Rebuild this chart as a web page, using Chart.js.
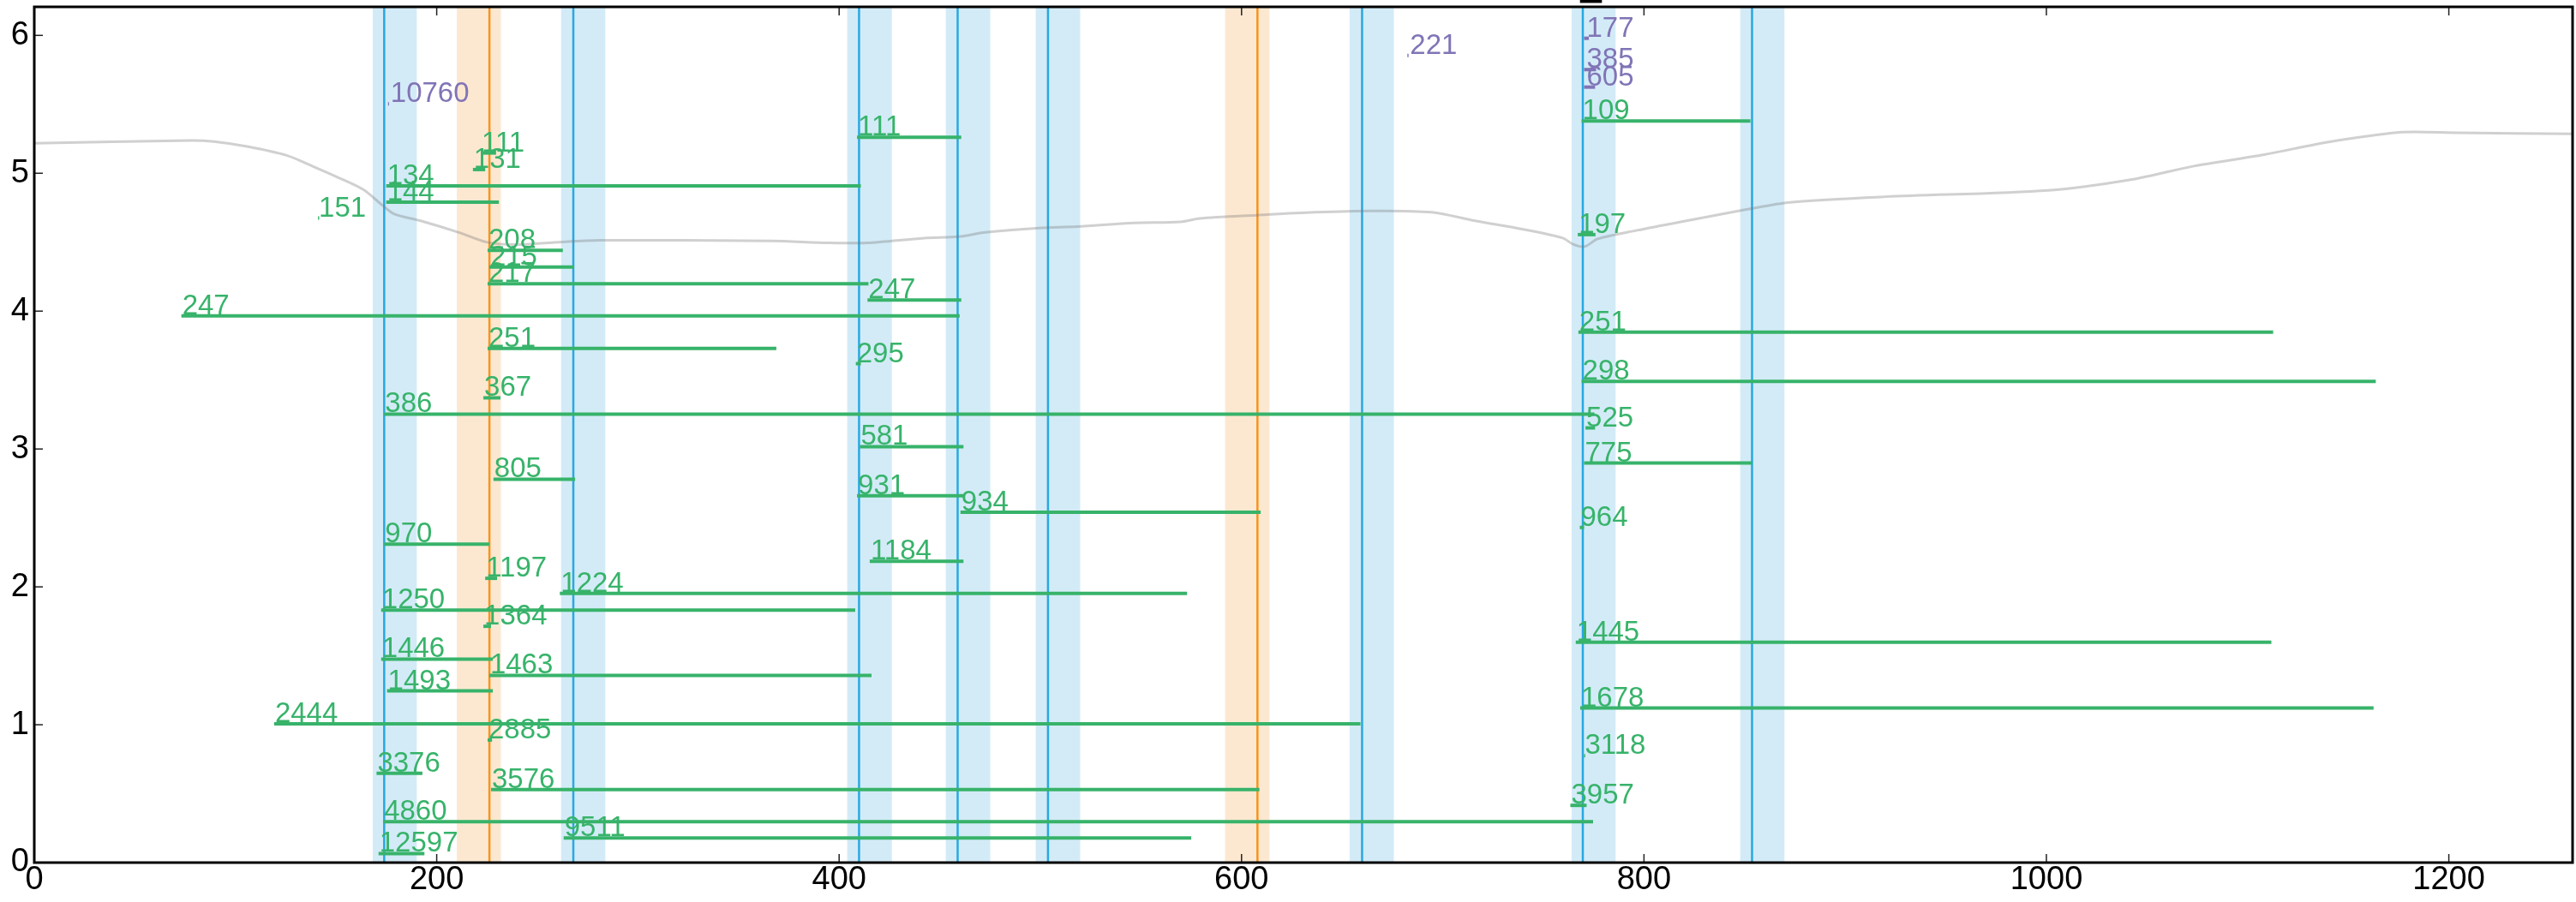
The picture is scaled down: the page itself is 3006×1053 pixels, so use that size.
<!DOCTYPE html>
<html>
<head>
<meta charset="utf-8">
<script src="https://cdn.jsdelivr.net/npm/chart.js@4.4.1/dist/chart.umd.min.js"></script>
<style>
  html, body { margin: 0; padding: 0; background: #fff; }
  #wrap { width: 3006px; height: 1053px; }
</style>
</head>
<body>
<div id="wrap"><canvas id="chart" width="3006" height="1053"></canvas></div>
<script>
// labelled green segments: label, y level, start and end position
const greenLabels = ['111', '111', '131', '134', '144', '151', '208', '215', '217', '247',
  '247', '251', '295', '367', '386', '525', '581', '775', '805', '931',
  '934', '964', '970', '1184', '1197', '1224', '1250', '1364', '1446', '1463',
  '1493', '2444', '2885', '3376', '3576', '4860', '9511', '12597', '109', '197',
  '251', '298', '1445', '1678', '3118', '3957'];
const greenY = [5.261, 5.147, 5.027, 4.909, 4.790, 4.675, 4.441, 4.319, 4.199, 3.965,
  4.081, 3.729, 3.619, 3.371, 3.253, 3.153, 3.017, 2.898, 2.781, 2.661,
  2.541, 2.431, 2.309, 2.185, 2.062, 1.953, 1.832, 1.714, 1.476, 1.358,
  1.245, 1.006, 0.889, 0.648, 0.530, 0.296, 0.178, 0.066, 5.379, 4.555,
  3.847, 3.491, 1.599, 1.121, 0.775, 0.415];
const greenStart = [408.9, 221.9, 218.0, 174.9, 174.9, 141.0, 225.3, 226.1, 225.3, 73.1,
  414.1, 225.3, 408.3, 223.2, 173.9, 770.9, 410.3, 770.2, 228.2, 408.9,
  460.3, 768.1, 173.9, 415.2, 224.1, 261.2, 172.4, 223.2, 172.4, 226.1,
  175.3, 119.2, 225.3, 170.1, 227.0, 173.4, 263.1, 171.1, 769.0, 767.1,
  767.4, 769.0, 766.1, 768.3, 770.2, 763.4];
const greenEnd = [460.7, 229.5, 224.1, 410.8, 230.9, 141.6, 262.7, 268.0, 414.6, 459.9,
  460.7, 368.8, 410.8, 231.7, 775.4, 775.7, 461.8, 853.7, 268.8, 461.8,
  609.5, 770.2, 226.1, 461.8, 230.0, 572.9, 408.0, 227.0, 227.9, 416.1,
  227.9, 659.1, 227.5, 192.9, 608.9, 774.7, 575.0, 193.9, 852.9, 775.9,
  1112.7, 1163.7, 1111.8, 1162.6, 770.8, 771.5];

// purple labels near the top
const purpleLabels = ['10760', '221', '177', '385', '605'];
const purpleY = [5.503, 5.855, 5.979, 5.752, 5.625];
const purpleStart = [175.8, 682.4, 770.2, 770.2, 770.2];
const purpleEnd = [176.3, 683.0, 772.6, 776.2, 775.7];

// vertical markers and their shaded windows
const blueLines = [173.9, 267.9, 409.9, 458.9, 503.8, 659.9, 769.6, 853.7];
const blueBandStart = [168.2, 261.8, 404.0, 453.0, 497.7, 653.7, 764.0, 847.8];
const blueBandEnd = [190.1, 283.8, 426.2, 475.1, 519.8, 675.7, 785.9, 869.8];
const orangeLines = [226.2, 607.9];
const orangeBandStart = [210.0, 591.8];
const orangeBandEnd = [231.9, 613.9];

// grey background profile
const profileX = [0, 77.9, 89.3, 106.4, 125.4, 138.8, 150.2, 163.5, 173, 178.7,
  192, 211, 225.2, 239.5, 258.5, 281, 366.2, 394.8, 413.8, 442.3,
  459.4, 472.7, 499.3, 518.3, 546.9, 569.7, 579.2, 607.8, 636.3, 664.4,
  694.4, 716.1, 740, 759.6, 765, 770.5, 777, 796.5, 818.3, 850.9,
  872.6, 920, 1001, 1042.6, 1073.3, 1108.3, 1139, 1171.8, 1182.8, 1204.7, 1261.5];
const profileY = [5.217, 5.238, 5.23, 5.193, 5.130, 5.048, 4.975, 4.882, 4.768, 4.706,
  4.655, 4.571, 4.499, 4.483, 4.499, 4.514, 4.509, 4.495, 4.495, 4.530,
  4.540, 4.571, 4.602, 4.613, 4.640, 4.648, 4.672, 4.696, 4.717, 4.727,
  4.717, 4.655, 4.593, 4.530, 4.483, 4.468, 4.524, 4.586, 4.648, 4.737,
  4.789, 4.830, 4.876, 4.955, 5.052, 5.135, 5.224, 5.292, 5.300, 5.294, 5.286];

const xTicks = [0, 200, 400, 600, 800, 1000, 1200];
const yTicks = [0, 1, 2, 3, 4, 5, 6];

// small black dash above the frame
const topMarkStart = 768.2, topMarkEnd = 779.1, topMarkY = 6.248;

const GREEN = '#37b36a';
const PURPLE = '#8174b6';
const FONT = '"Liberation Sans", Arial, sans-serif';

const datasets = [];
datasets.push({
  data: profileX.map((x, i) => ({ x: x, y: profileY[i] })),
  borderColor: 'rgba(120,120,120,0.35)',
  borderWidth: 3,
  pointRadius: 0,
  tension: 0.3,
  order: 10
});
greenLabels.forEach((lab, i) => {
  datasets.push({
    data: [{ x: greenStart[i], y: greenY[i] }, { x: greenEnd[i], y: greenY[i] }],
    borderColor: GREEN,
    borderWidth: 4,
    pointRadius: 0
  });
});
purpleLabels.forEach((lab, i) => {
  datasets.push({
    data: [{ x: purpleStart[i], y: purpleY[i] }, { x: purpleEnd[i], y: purpleY[i] }],
    borderColor: PURPLE,
    borderWidth: 4,
    pointRadius: 0
  });
});
datasets.push({
  data: [{ x: topMarkStart, y: topMarkY }, { x: topMarkEnd, y: topMarkY }],
  borderColor: '#000',
  borderWidth: 4,
  pointRadius: 0,
  clip: false
});

const overlay = {
  id: 'overlay',
  beforeDatasetsDraw(chart) {
    const { ctx, chartArea: a, scales: { x } } = chart;
    ctx.save();
    ctx.fillStyle = 'rgb(211,235,247)';
    blueBandStart.forEach((s, i) => {
      const l = x.getPixelForValue(s), r = x.getPixelForValue(blueBandEnd[i]);
      ctx.fillRect(l, a.top, r - l, a.bottom - a.top);
    });
    ctx.fillStyle = 'rgb(252,232,209)';
    orangeBandStart.forEach((s, i) => {
      const l = x.getPixelForValue(s), r = x.getPixelForValue(orangeBandEnd[i]);
      ctx.fillRect(l, a.top, r - l, a.bottom - a.top);
    });
    ctx.lineWidth = 2.5;
    ctx.strokeStyle = '#27a9e1';
    blueLines.forEach(v => {
      const px = x.getPixelForValue(v);
      ctx.beginPath(); ctx.moveTo(px, a.top); ctx.lineTo(px, a.bottom); ctx.stroke();
    });
    ctx.strokeStyle = '#f7931e';
    orangeLines.forEach(v => {
      const px = x.getPixelForValue(v);
      ctx.beginPath(); ctx.moveTo(px, a.top); ctx.lineTo(px, a.bottom); ctx.stroke();
    });
    ctx.restore();
  },
  afterDatasetsDraw(chart) {
    const { ctx, scales: { x, y } } = chart;
    ctx.save();
    ctx.font = '33px ' + FONT;
    ctx.textAlign = 'left';
    ctx.textBaseline = 'alphabetic';
    ctx.fillStyle = GREEN;
    greenLabels.forEach((lab, i) => {
      ctx.fillText(lab, x.getPixelForValue(greenStart[i]) + 1, y.getPixelForValue(greenY[i]) - 2);
    });
    ctx.fillStyle = PURPLE;
    purpleLabels.forEach((lab, i) => {
      ctx.fillText(lab, x.getPixelForValue(purpleStart[i]) + 3, y.getPixelForValue(purpleY[i]) - 2);
    });
    ctx.restore();
  },
  afterDraw(chart) {
    const { ctx, chartArea: a, scales: { x, y } } = chart;
    ctx.save();
    // inward tick marks
    ctx.strokeStyle = '#222';
    ctx.lineWidth = 1.5;
    xTicks.forEach(v => {
      const px = x.getPixelForValue(v);
      ctx.beginPath();
      ctx.moveTo(px, a.bottom); ctx.lineTo(px, a.bottom - 10);
      ctx.moveTo(px, a.top); ctx.lineTo(px, a.top + 10);
      ctx.stroke();
    });
    yTicks.forEach(v => {
      const py = y.getPixelForValue(v);
      ctx.beginPath();
      ctx.moveTo(a.left, py); ctx.lineTo(a.left + 10, py);
      ctx.stroke();
    });
    // frame
    ctx.strokeStyle = '#000';
    ctx.lineWidth = 3;
    ctx.strokeRect(a.left, a.top, a.right - a.left, a.bottom - a.top);
    ctx.restore();
  }
};

new Chart(document.getElementById('chart'), {
  type: 'line',
  data: { datasets: datasets },
  options: {
    responsive: false,
    animation: false,
    events: [],
    layout: { padding: { top: 8, right: 4, left: 0, bottom: 0 } },
    plugins: { legend: { display: false }, tooltip: { enabled: false } },
    scales: {
      x: {
        type: 'linear',
        min: 0,
        max: 1261.5,
        grid: { display: false, drawTicks: false },
        border: { display: false },
        ticks: { color: '#000', font: { size: 38, family: FONT, lineHeight: 1.0 }, padding: 2, maxRotation: 0,
          callback: v => String(v) },
        afterBuildTicks: s => { s.ticks = xTicks.map(v => ({ value: v })); },
        afterFit: s => { s.height = 46; s.paddingLeft = 0; s.paddingRight = 0; }
      },
      y: {
        type: 'linear',
        min: 0,
        max: 6.207,
        grid: { display: false, drawTicks: false },
        border: { display: false },
        ticks: { color: '#000', font: { size: 38, family: FONT }, padding: 6,
          callback: v => String(v) },
        afterBuildTicks: s => { s.ticks = yTicks.map(v => ({ value: v })); },
        afterFit: s => { s.width = 40; s.paddingTop = 0; s.paddingBottom = 0; }
      }
    }
  },
  plugins: [overlay]
});
</script>
</body>
</html>
